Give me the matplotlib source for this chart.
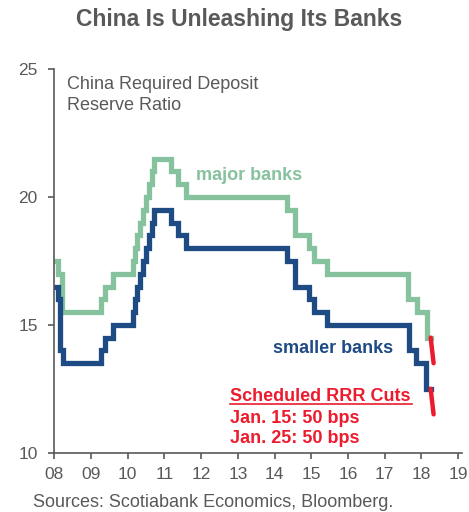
import matplotlib
matplotlib.use("Agg")
import matplotlib.pyplot as plt

plt.rcParams["font.family"] = ["Liberation Sans", "DejaVu Sans"]

# step change points (chart x position, ratio in %)
major_x = [2008.0, 2008.11, 2008.22, 2009.27, 2009.38, 2009.59, 2010.15, 2010.19,
           2010.24, 2010.33, 2010.42, 2010.5, 2010.58, 2010.65, 2010.72, 2011.17,
           2011.37, 2011.6, 2014.35, 2014.56, 2014.93, 2015.08, 2015.44, 2017.64,
           2017.87, 2018.14]
major_y = [17.5, 17, 15.5, 16, 16.5, 17, 17.5, 18, 18.5, 19, 19.5, 20, 20.5, 21,
           21.5, 21, 20.5, 20, 19.5, 18.5, 18, 17.5, 17, 16, 15.5, 14.5]

small_x = [2008.0, 2008.11, 2008.16, 2008.25, 2009.27, 2009.38, 2009.59, 2010.15,
           2010.19, 2010.24, 2010.33, 2010.42, 2010.5, 2010.58, 2010.65, 2010.72,
           2011.17, 2011.37, 2011.6, 2014.35, 2014.56, 2014.93, 2015.08, 2015.42,
           2017.66, 2017.86, 2018.13]
small_y = [16.5, 16, 14, 13.5, 14, 14.5, 15, 15.5, 16, 16.5, 17, 17.5, 18, 18.5,
           19, 19.5, 19, 18.5, 18, 17.5, 16.5, 16, 15.5, 15, 14, 13.5, 12.5]
last_x = 2018.25

# scheduled cuts
cut_x = [2018.25, 2018.33]
major_cut = [14.5, 13.5]
small_cut = [12.5, 11.5]

year_ticks = list(range(2008, 2020))
year_labels = ["%02d" % (y % 100) for y in year_ticks]

green = "#86C29E"
navy = "#1F4B84"
red = "#EC1C2E"
grey = "#595959"

fig = plt.figure(figsize=(4.69, 5.12), dpi=100)
ax = fig.add_axes([0.1158, 0.1158, 0.869, 0.749])

ax.step(major_x + [last_x], major_y + [major_y[-1]], where="post",
        color=green, lw=3.8, solid_joinstyle="miter")
ax.step(small_x + [last_x], small_y + [small_y[-1]], where="post",
        color=navy, lw=3.8, solid_joinstyle="miter")
ax.plot(cut_x, major_cut, color=red, lw=3.2, solid_capstyle="round")
ax.plot(cut_x, small_cut, color=red, lw=3.2, solid_capstyle="round")

ax.set_xlim(2008, 2019.1)
ax.set_ylim(10, 25)
ax.set_xticks(year_ticks)
ax.set_xticklabels(year_labels)
ax.set_yticks([10, 15, 20, 25])

for s in ["top", "right"]:
    ax.spines[s].set_visible(False)
for s in ["left", "bottom"]:
    ax.spines[s].set_color(grey)
    ax.spines[s].set_linewidth(1.2)
ax.tick_params(axis="both", colors=grey, labelsize=12.5, width=1.2, length=4,
               direction="out")
ax.tick_params(axis="y", pad=8)
ax.tick_params(axis="x", pad=6)

ax.text(2008.34, 24.22, "China Required Deposit", color=grey, fontsize=13,
        va="baseline", ha="left")
ax.text(2008.34, 23.40, "Reserve Ratio", color=grey, fontsize=13,
        va="baseline", ha="left")
ax.text(2011.87, 20.66, "major banks", color=green, fontsize=13,
        fontweight="bold", va="baseline")
ax.text(2013.96, 13.89, "smaller banks", color=navy, fontsize=13,
        fontweight="bold", va="baseline")
ax.text(2012.79, 12.03, "Scheduled RRR Cuts", color=red, fontsize=13,
        fontweight="bold", va="baseline")
ax.plot([2012.79, 2017.75], [11.90, 11.90], color=red, lw=1.2)
ax.text(2012.79, 11.17, "Jan. 15: 50 bps", color=red, fontsize=13,
        fontweight="bold", va="baseline")
ax.text(2012.79, 10.37, "Jan. 25: 50 bps", color=red, fontsize=13,
        fontweight="bold", va="baseline")

fig.text(0.51, 0.961, "China Is Unleashing Its Banks", color=grey, fontsize=16.5,
         fontweight="bold", ha="center", va="center")
fig.text(0.07, 0.0195, "Sources: Scotiabank Economics, Bloomberg.", color=grey,
         fontsize=13, ha="left", va="center")

fig.savefig("out.png", dpi=100)
